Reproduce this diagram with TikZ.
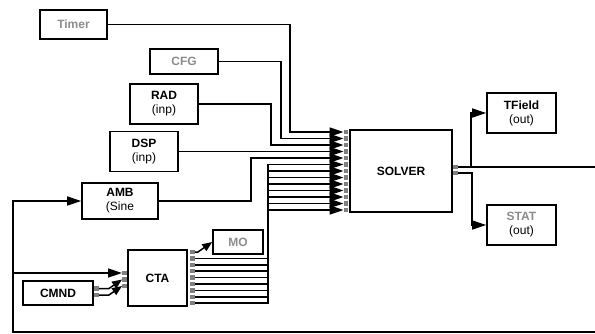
\documentclass[tikz,border=0pt]{standalone}
\usepackage{fontspec}
\setmainfont{Liberation Sans}
\usetikzlibrary{arrows.meta}
\definecolor{txtgray}{HTML}{8C8C8C}
\definecolor{portgray}{HTML}{808080}
\tikzset{
  blk/.style={draw, line width=1.6pt, inner sep=0pt, align=center, font=\fontsize{12}{14}\selectfont},
  port/.style={fill=portgray, minimum size=4.5pt, inner sep=0pt},
  sig/.style={line width=1.5pt, -{Triangle[length=14pt,width=9pt]}},
  sigs/.style={line width=1.5pt, -{Triangle[length=10pt,width=8pt]}}
}
\begin{document}
\begin{tikzpicture}[x=1pt, y=-1pt]
                \useasboundingbox (0,0) rectangle (595,333);
                \clip (0,0) rectangle (595,333);

                % Blocks
                \node[blk, minimum width=67pt, minimum height=29pt] (timer) at (73.5,24.5) {\textcolor{txtgray}{\textbf{Timer}}};
                \node[blk, minimum width=68pt, minimum height=25pt] (cfg) at (184,61.5) {\textcolor{txtgray}{\textbf{CFG}}};
                \node[blk, minimum width=68pt, minimum height=40pt] (rad) at (164,104) {\textbf{RAD}\\(inp)};
                \node[blk, minimum width=68pt, minimum height=40pt] (dsp) at (144,151.5) {\textbf{DSP}\\(inp)};
                \node[blk, minimum width=76pt, minimum height=36pt] (amb) at (120,201) {\textbf{AMB}\\(Sine};
                \node[blk, minimum width=50pt, minimum height=24pt] (mo) at (238,242) {\textcolor{txtgray}{\textbf{MO}}};
                \node[blk, minimum width=59pt, minimum height=56pt] (cta) at (157.5,278) {\textbf{CTA}};
                \node[blk, minimum width=70pt, minimum height=24pt] (cmnd) at (58,293) {\textbf{CMND}};
                \node[blk, minimum width=102pt, minimum height=82pt] (solver) at (401,171) {\textbf{SOLVER}};
                \node[blk, minimum width=69pt, minimum height=40pt] (tfield) at (521.5,113) {\textbf{TField}\\(out)};
                \node[blk, minimum width=69pt, minimum height=40pt] (stat) at (521.5,225) {\textcolor{txtgray}{\textbf{STAT}}\\(out)};

                % Ports
                \foreach \i in {1,...,13}
                    \node[port] (sin\i) at (346,{125.5+6.5*\i}) {};
                \node[port] (sout1) at (455.5,167) {};
                \node[port] (sout2) at (455.5,173) {};
                \foreach \i in {0,...,8}
                    \node[port] (cout\i) at (192.5,{252+6.4*\i}) {};
                \node[port] (cin1) at (124.5,273) {};
                \node[port] (cin2) at (124.5,279.5) {};
                \node[port] (cin3) at (124.5,286) {};
                \node[port] (mp1) at (96.5,288.5) {};
                \node[port] (mp2) at (96.5,295) {};

                % Bus columns
                \coordinate (busT) at (290,0);
                \coordinate (busF) at (281,0);
                \coordinate (busR) at (271,0);
                \coordinate (busC) at (268,0);
                \coordinate (busA) at (251,0);

                % Inputs of the solver
                \draw[sig] (timer.east) -| (busT |- sin1) -- (sin1.west);
                \draw[sig] (cfg.east) -| (busF |- sin2) -- (sin2.west);
                \draw[sig] (rad.east) -| (busR |- sin3) -- (sin3.west);
                \draw[sig] (dsp.east) -- (sin4.west);
                \draw[sig] (amb.east) -| (busA |- sin5) -- (sin5.west);
                \foreach \i [evaluate=\i as \j using int(\i+5)] in {1,...,8}
                    \draw[sig] (cout\i.east) -| (busC |- sin\j) -- (sin\j.west);

                % Outputs
                \draw[sig] (sout1.east) -| ([xshift=-15pt]tfield.west) -- (tfield.west);
                \draw[sig] (sout2.east) -| ([xshift=-14pt]stat.west) -- (stat.west);

                % Feedback loop
                \coordinate (edgeT) at ([xshift=160pt]sout1.east);
                \coordinate (loopL) at (13,332);
                \draw[sig] (sout1.east) -- (edgeT) |- (loopL) |- (amb.west);
                \draw[sig] (loopL |- cin1) -- (cin1.west);

                % Controller
                \draw[sigs] (cout0.east) -- ++(3,0) -- (mo.west);
                \draw[sigs] (mp1.east) -- ++(10,0) -- (cin2.west);
                \draw[sigs] (mp2.east) -- ++(10,0) -- (cin3.west);
\end{tikzpicture}
\end{document}
